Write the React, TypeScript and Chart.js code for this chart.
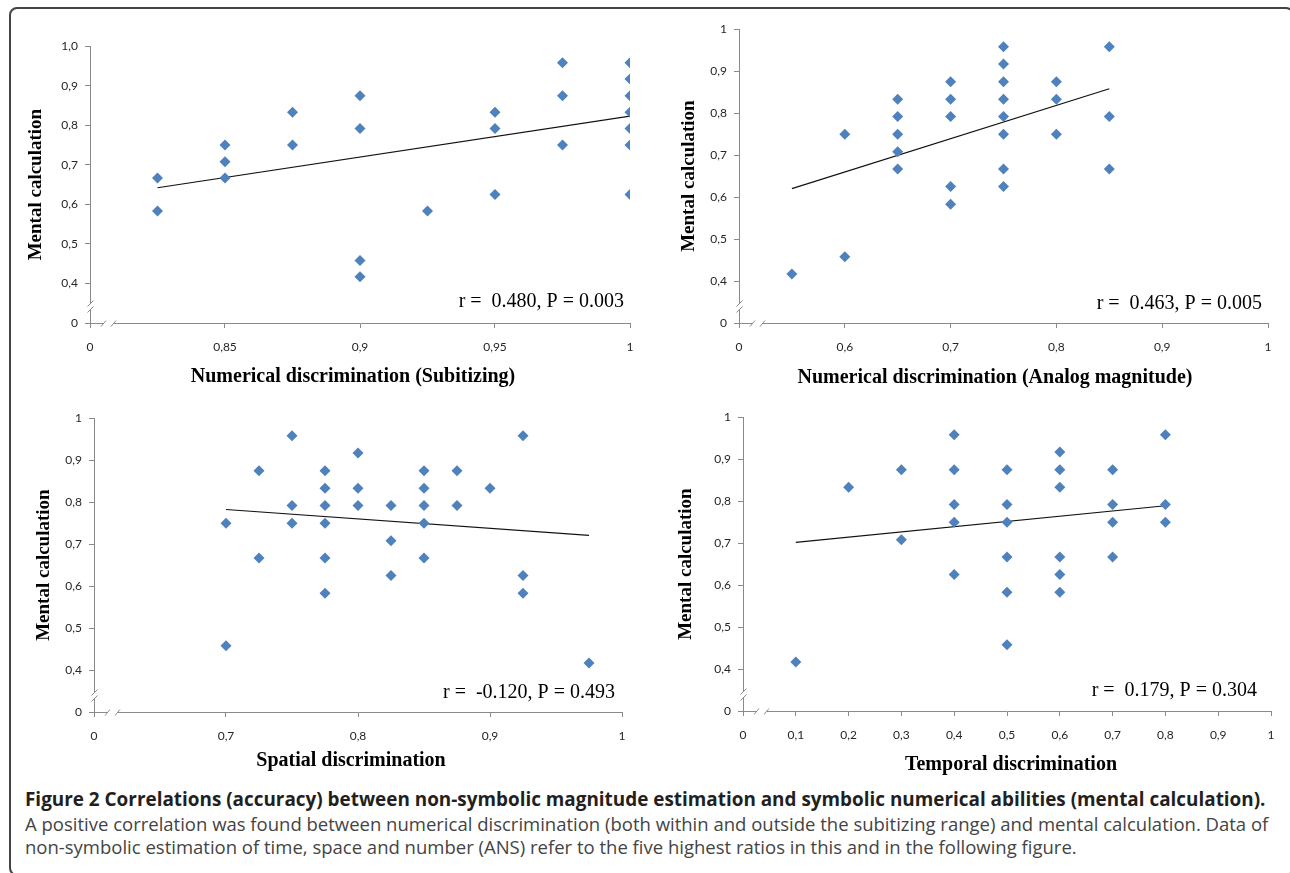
import React, { useEffect, useRef } from 'react';
import { Chart, registerables } from 'chart.js';

Chart.register(...registerables);

// ---------- DATA ----------
// Panel A: Numerical discrimination (Subitizing)
const subitizingX = [0.825, 0.825, 0.85, 0.85, 0.85, 0.875, 0.875, 0.9, 0.9, 0.9, 0.9, 0.925, 0.95, 0.95, 0.95, 0.975, 0.975, 0.975, 1, 1, 1, 1, 1, 1, 1];
const subitizingY = [0.667, 0.583, 0.75, 0.708, 0.667, 0.833, 0.75, 0.875, 0.792, 0.458, 0.417, 0.583, 0.833, 0.792, 0.625, 0.958, 0.875, 0.75, 0.958, 0.917, 0.875, 0.833, 0.792, 0.75, 0.625];
const subitizingTrendX = [0.825, 1];
const subitizingTrendY = [0.642, 0.823];
const subitizingXTicks = [0.8, 0.85, 0.9, 0.95, 1];
const subitizingXLabels = ['0', '0,85', '0,9', '0,95', '1'];

// Panel B: Numerical discrimination (Analog magnitude)
const analogX = [0.55, 0.6, 0.6, 0.65, 0.65, 0.65, 0.65, 0.65, 0.7, 0.7, 0.7, 0.7, 0.7, 0.75, 0.75, 0.75, 0.75, 0.75, 0.75, 0.75, 0.75, 0.8, 0.8, 0.8, 0.85, 0.85, 0.85];
const analogY = [0.417, 0.75, 0.458, 0.833, 0.792, 0.75, 0.708, 0.667, 0.875, 0.833, 0.792, 0.625, 0.583, 0.958, 0.917, 0.875, 0.833, 0.792, 0.75, 0.667, 0.625, 0.875, 0.833, 0.75, 0.958, 0.792, 0.667];
const analogTrendX = [0.55, 0.85];
const analogTrendY = [0.62, 0.858];
const analogXTicks = [0.5, 0.6, 0.7, 0.8, 0.9, 1];
const analogXLabels = ['0', '0,6', '0,7', '0,8', '0,9', '1'];

// Panel C: Spatial discrimination
const spatialX = [0.7, 0.7, 0.725, 0.725, 0.75, 0.75, 0.75, 0.775, 0.775, 0.775, 0.775, 0.775, 0.775, 0.8, 0.8, 0.8, 0.825, 0.825, 0.825, 0.85, 0.85, 0.85, 0.85, 0.85, 0.875, 0.875, 0.9, 0.925, 0.925, 0.925, 0.975];
const spatialY = [0.75, 0.458, 0.875, 0.667, 0.958, 0.792, 0.75, 0.875, 0.833, 0.792, 0.75, 0.667, 0.583, 0.917, 0.833, 0.792, 0.792, 0.708, 0.625, 0.875, 0.833, 0.792, 0.75, 0.667, 0.875, 0.792, 0.833, 0.958, 0.625, 0.583, 0.417];
const spatialTrendX = [0.7, 0.975];
const spatialTrendY = [0.7825, 0.7206];
const spatialXTicks = [0.6, 0.7, 0.8, 0.9, 1];
const spatialXLabels = ['0', '0,7', '0,8', '0,9', '1'];

// Panel D: Temporal discrimination
const temporalX = [0.1, 0.2, 0.3, 0.3, 0.4, 0.4, 0.4, 0.4, 0.4, 0.5, 0.5, 0.5, 0.5, 0.5, 0.5, 0.6, 0.6, 0.6, 0.6, 0.6, 0.6, 0.7, 0.7, 0.7, 0.7, 0.8, 0.8, 0.8];
const temporalY = [0.417, 0.833, 0.875, 0.708, 0.958, 0.875, 0.792, 0.75, 0.625, 0.875, 0.792, 0.75, 0.667, 0.583, 0.458, 0.917, 0.875, 0.833, 0.667, 0.625, 0.583, 0.875, 0.792, 0.75, 0.667, 0.958, 0.792, 0.75];
const temporalTrendX = [0.1, 0.8];
const temporalTrendY = [0.7016, 0.789];
const temporalXTicks = [0, 0.1, 0.2, 0.3, 0.4, 0.5, 0.6, 0.7, 0.8, 0.9, 1];
const temporalXLabels = ['0', '0,1', '0,2', '0,3', '0,4', '0,5', '0,6', '0,7', '0,8', '0,9', '1'];

// Shared y axis (broken axis: the "0" tick sits just below 0,4)
const yTickValues = [0.3, 0.4, 0.5, 0.6, 0.7, 0.8, 0.9, 1.0];
const yTickLabelsFirst = ['0', '0,4', '0,5', '0,6', '0,7', '0,8', '0,9', '1,0'];
const yTickLabels = ['0', '0,4', '0,5', '0,6', '0,7', '0,8', '0,9', '1'];

const statTexts = ['r =  0.480, P = 0.003', 'r =  0.463, P = 0.005', 'r =  -0.120, P = 0.493', 'r =  0.179, P = 0.304'];
const xTitles = ['Numerical discrimination (Subitizing)', 'Numerical discrimination (Analog magnitude)', 'Spatial discrimination', 'Temporal discrimination'];
const yTitle = 'Mental calculation';

const captionTitle = 'Figure 2 Correlations (accuracy) between non-symbolic magnitude estimation and symbolic numerical abilities (mental calculation).';
const captionLines = [
  'A positive correlation was found between numerical discrimination (both within and outside the subitizing range) and mental calculation. Data of',
  'non-symbolic estimation of time, space and number (ANS) refer to the five highest ratios in this and in the following figure.',
];

// ---------- LAYOUT / STYLE ----------
const AXIS_COLOR = '#8a8a8a';
const POINT_COLOR = '#4F81BD';
const TICK_FONT = { family: 'Lato', size: 12 };
const X_TITLE_FONT = 'bold 20px "Liberation Serif"';
const X_TITLE_LH = 24;
const Y_TITLE_FONT = { family: 'Liberation Serif', size: 19, weight: 'bold' as const };
const PAD_TOP = 14;
const PAD_RIGHT = 16;

type Panel = {
  xs: number[]; ys: number[]; tx: number[]; ty: number[];
  xTicks: number[]; xLabels: string[]; yLabels: string[];
  xTitle: string; stat: string;
  L: number; R: number; T: number; B: number;
  yTitleX: number; xTitleX: number; xTitleY: number; statDx: number; statDy: number;
};

const panels: Panel[] = [
  { xs: subitizingX, ys: subitizingY, tx: subitizingTrendX, ty: subitizingTrendY, xTicks: subitizingXTicks, xLabels: subitizingXLabels, yLabels: yTickLabelsFirst, xTitle: xTitles[0], stat: statTexts[0], L: 90, R: 630, T: 46, B: 323, yTitleX: 36, xTitleX: 353, xTitleY: 377, statDx: 6, statDy: 21 },
  { xs: analogX, ys: analogY, tx: analogTrendX, ty: analogTrendY, xTicks: analogXTicks, xLabels: analogXLabels, yLabels: yTickLabels, xTitle: xTitles[1], stat: statTexts[1], L: 739, R: 1268, T: 29, B: 323, yTitleX: 689, xTitleX: 995, xTitleY: 378, statDx: 6, statDy: 19 },
  { xs: spatialX, ys: spatialY, tx: spatialTrendX, ty: spatialTrendY, xTicks: spatialXTicks, xLabels: spatialXLabels, yLabels: yTickLabels, xTitle: xTitles[2], stat: statTexts[2], L: 94, R: 622, T: 418, B: 712, yTitleX: 44, xTitleX: 351, xTitleY: 761, statDx: 7, statDy: 19 },
  { xs: temporalX, ys: temporalY, tx: temporalTrendX, ty: temporalTrendY, xTicks: temporalXTicks, xLabels: temporalXLabels, yLabels: yTickLabels, xTitle: xTitles[3], stat: statTexts[3], L: 743, R: 1271, T: 417, B: 711, yTitleX: 686, xTitleX: 1011, xTitleY: 765, statDx: 14, statDy: 20 },
];

function labelFor(values: number[], labels: string[], v: number) {
  let best = 0;
  for (let i = 1; i < values.length; i++) if (Math.abs(values[i] - v) < Math.abs(values[best] - v)) best = i;
  return labels[best];
}

const breakPlugin = {
  id: 'axisBreaks',
  afterDraw(chart: any) {
    const { ctx, chartArea } = chart;
    const { left, bottom } = chartArea;
    const ax = Math.round(left) + 0.5;
    const ay = Math.round(bottom) + 0.5;
    ctx.save();
    ctx.fillStyle = '#ffffff';
    ctx.fillRect(ax - 2, ay - 20, 4, 6);
    ctx.fillRect(ax + 13, ay - 2, 10, 4);
    ctx.strokeStyle = AXIS_COLOR;
    ctx.lineWidth = 1;
    ctx.beginPath();
    for (const c of [ay - 20, ay - 14]) {
      ctx.moveTo(ax - 3, c + 3);
      ctx.lineTo(ax + 3, c - 3);
    }
    for (const c of [ax + 13, ax + 23]) {
      ctx.moveTo(c - 2.5, ay + 3);
      ctx.lineTo(c + 2.5, ay - 3);
    }
    ctx.stroke();
    ctx.restore();
  },
};

function makeTextPlugin(p: Panel, canvasLeft: number, canvasTop: number) {
  return {
    id: 'panelText',
    afterDraw(chart: any) {
      const { ctx, chartArea } = chart;
      ctx.save();
      ctx.fillStyle = '#000';
      ctx.font = '20px "Liberation Serif"';
      ctx.textAlign = 'right';
      ctx.textBaseline = 'middle';
      ctx.fillText(p.stat, chartArea.right - p.statDx, chartArea.bottom - p.statDy);
      ctx.font = X_TITLE_FONT;
      ctx.textAlign = 'center';
      ctx.fillText(p.xTitle, p.xTitleX - canvasLeft, p.xTitleY - canvasTop);
      ctx.restore();
    },
  };
}

function ScatterPanel({ p }: { p: Panel }) {
  const ref = useRef<HTMLCanvasElement>(null);
  const yLH = Y_TITLE_FONT.size * 1.2;
  const left = Math.round(p.yTitleX - yLH / 2);
  const top = p.T - PAD_TOP;
  const right = p.R + PAD_RIGHT;
  const bottom = Math.round(p.xTitleY + X_TITLE_LH / 2);
  const width = right - left;
  const height = bottom - top;
  const yWidth = p.L - left;
  const xHeight = bottom - p.B;

  useEffect(() => {
    if (!ref.current) return;
    const chart = new Chart(ref.current, {
      type: 'scatter',
      data: {
        datasets: [
          {
            data: p.xs.map((x, i) => ({ x, y: p.ys[i] })),
            pointStyle: 'rectRot',
            pointRadius: 5.5,
            pointHoverRadius: 5.5,
            backgroundColor: POINT_COLOR,
            borderColor: POINT_COLOR,
            borderWidth: 0,
          },
          {
            data: p.tx.map((x, i) => ({ x, y: p.ty[i] })),
            showLine: true,
            pointRadius: 0,
            borderColor: '#111',
            borderWidth: 1.2,
            backgroundColor: '#111',
          } as any,
        ],
      },
      options: {
        animation: false,
        responsive: false,
        events: [],
        layout: { padding: { top: PAD_TOP, right: PAD_RIGHT, left: 0, bottom: 0 } },
        plugins: { legend: { display: false }, tooltip: { enabled: false } },
        scales: {
          x: {
            type: 'linear',
            min: p.xTicks[0],
            max: p.xTicks[p.xTicks.length - 1],
            afterBuildTicks: (s: any) => { s.ticks = p.xTicks.map((v) => ({ value: v })); },
            afterFit: (s: any) => { s.height = xHeight; },
            ticks: {
              autoSkip: false,
              maxRotation: 0,
              padding: 12,
              color: '#262626',
              font: TICK_FONT,
              callback: (v: any) => labelFor(p.xTicks, p.xLabels, Number(v)),
            },
            grid: { display: true, drawOnChartArea: false, drawTicks: true, tickLength: 5, color: AXIS_COLOR, lineWidth: 1 },
            border: { display: true, color: AXIS_COLOR, width: 1 },
            title: { display: false },
          },
          y: {
            type: 'linear',
            min: yTickValues[0],
            max: yTickValues[yTickValues.length - 1],
            afterBuildTicks: (s: any) => { s.ticks = yTickValues.map((v) => ({ value: v })); },
            afterFit: (s: any) => { s.width = yWidth; },
            ticks: {
              autoSkip: false,
              padding: 7,
              color: '#262626',
              font: TICK_FONT,
              callback: (v: any) => labelFor(yTickValues, p.yLabels, Number(v)),
            },
            grid: { display: true, drawOnChartArea: false, drawTicks: true, tickLength: 5, color: AXIS_COLOR, lineWidth: 1 },
            border: { display: true, color: AXIS_COLOR, width: 1 },
            title: { display: true, text: yTitle, font: Y_TITLE_FONT, color: '#000', padding: 0 },
          },
        },
      } as any,
      plugins: [breakPlugin, makeTextPlugin(p, left, top)],
    });
    return () => chart.destroy();
  }, []);

  return (
    <canvas
      ref={ref}
      width={width}
      height={height}
      style={{ position: 'absolute', left, top, width, height }}
    />
  );
}

export default function App() {
  return (
    <div style={{ position: 'absolute', left: 0, top: 0, width: 1290, height: 873, overflow: 'hidden', background: '#fff' }}>
      <div
        style={{
          position: 'absolute', left: 9, top: 7, width: 1285, height: 869,
          border: '2px solid #444', borderRadius: 8, boxSizing: 'border-box',
        }}
      />
      {panels.map((p, i) => <ScatterPanel key={i} p={p} />)}
      <div
        style={{
          position: 'absolute', left: 25, top: 788, fontFamily: '"Open Sans", sans-serif',
          fontSize: 18.5, lineHeight: '23.5px', whiteSpace: 'nowrap',
        }}
      >
        <div style={{ fontWeight: 700, color: '#231f20', fontSize: 18.9 }}>{captionTitle}</div>
        {captionLines.map((l, i) => <div key={i} style={{ color: '#444' }}>{l}</div>)}
      </div>
    </div>
  );
}
